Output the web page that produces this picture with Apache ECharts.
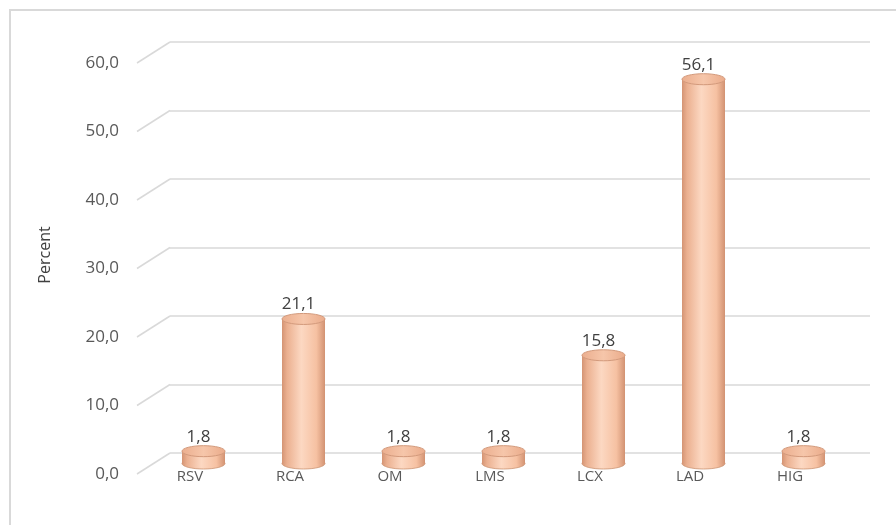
<!DOCTYPE html>
<html>
<head>
<meta charset="utf-8">
<script src="https://cdn.jsdelivr.net/npm/echarts@6/dist/echarts.min.js"></script>
<style>
  html, body { margin: 0; padding: 0; background: #fff; }
  #chart { width: 896px; height: 525px; }
</style>
</head>
<body>
<div id="chart"></div>
<script>
var categories = ['RSV', 'RCA', 'OM', 'LMS', 'LCX', 'LAD', 'HIG'];
var percents = [1.8, 21.1, 1.8, 1.8, 15.8, 56.1, 1.8];
var ticks = [0, 10, 20, 30, 40, 50, 60];

// depth of the 3D look: front plane is shifted left/down from the back wall
var depthX = 33, depthY = 21;

function fmt(v) {
    return v.toFixed(1).replace('.', ',');
}

var chart = echarts.init(document.getElementById('chart'));

var bodyGrad = new echarts.graphic.LinearGradient(0, 0, 1, 0, [
    {offset: 0, color: '#d49474'},
    {offset: 0.12, color: '#ebb090'},
    {offset: 0.45, color: '#fcd8c2'},
    {offset: 0.8, color: '#f6c1a2'},
    {offset: 1, color: '#d29272'}
]);
var topGrad = new echarts.graphic.LinearGradient(0, 0, 1, 0, [
    {offset: 0, color: '#ebae8e'},
    {offset: 0.5, color: '#f6c6aa'},
    {offset: 1, color: '#eaab8a'}
]);

var option = {
    backgroundColor: '#fff',
    animation: false,
    textStyle: {fontFamily: 'Open Sans'},
    grid: [
        // back wall
        {left: 170, right: 26, top: 42, bottom: 72},
        // front plane (labels)
        {left: 137, right: 59, top: 63, bottom: 51},
        // middle plane (cylinders)
        {left: 153.5, right: 42.5, top: 52.5, bottom: 61.5}
    ],
    xAxis: [
        {gridIndex: 0, type: 'category', data: categories, show: false},
        {gridIndex: 1, type: 'category', data: categories,
            axisLine: {show: false}, axisTick: {show: false},
            axisLabel: {color: '#595959', fontSize: 15, margin: -5, padding: [0, 0, 0, 6]}},
        {gridIndex: 2, type: 'category', data: categories, show: false}
    ],
    yAxis: [
        {gridIndex: 0, type: 'value', min: 0, max: 60, interval: 10,
            axisLine: {show: false}, axisTick: {show: false}, axisLabel: {show: false},
            splitLine: {lineStyle: {color: '#d9d9d9', width: 1.5}}},
        {gridIndex: 1, type: 'value', min: 0, max: 60, interval: 10,
            axisLine: {show: false}, axisTick: {show: false}, splitLine: {show: false},
            axisLabel: {color: '#595959', fontSize: 17, margin: 18, formatter: fmt}},
        {gridIndex: 2, type: 'value', min: 0, max: 60, interval: 10, show: false}
    ],
    graphic: [
        {type: 'rect', shape: {x: 10, y: 10, width: 900, height: 530},
            style: {fill: 'none', stroke: '#d9d9d9', lineWidth: 2}, silent: true},
        {type: 'text', x: 45, y: 255, rotation: Math.PI / 2,
            style: {text: 'Percent', fill: '#404040', font: '16px "Open Sans"',
                align: 'center', verticalAlign: 'middle'}}
    ],
    series: [
        {
            // slanted side-wall gridlines
            type: 'custom',
            xAxisIndex: 0, yAxisIndex: 0,
            silent: true,
            data: ticks.map(function (t) { return [0, t]; }),
            renderItem: function (params, api) {
                var y = api.coord([0, api.value(1)])[1];
                var x = params.coordSys.x;
                return {
                    type: 'line',
                    shape: {x1: x - depthX, y1: y + depthY, x2: x, y2: y},
                    style: {stroke: '#d9d9d9', lineWidth: 1.5}
                };
            }
        },
        {
            type: 'custom',
            xAxisIndex: 2, yAxisIndex: 2,
            data: percents.map(function (v, i) { return [i, v]; }),
            renderItem: function (params, api) {
                var i = api.value(0), v = api.value(1);
                var top = api.coord([i, v]);
                var base = api.coord([i, 0]);
                var rx = 21.5, ry = 5.5;
                var cx = top[0];
                return {
                    type: 'group',
                    children: [
                        {type: 'ellipse', shape: {cx: cx, cy: base[1], rx: rx, ry: ry},
                            style: {fill: bodyGrad, stroke: '#cc9474', lineWidth: 0.8}},
                        {type: 'rect', shape: {x: cx - rx, y: top[1], width: rx * 2, height: base[1] - top[1]},
                            style: {fill: bodyGrad}},
                        {type: 'ellipse', shape: {cx: cx, cy: top[1], rx: rx, ry: ry},
                            style: {fill: topGrad, stroke: '#d39a7c', lineWidth: 1}},
                        {type: 'text', x: cx - 5, y: top[1] - 6,
                            style: {text: fmt(v), fill: '#404040', font: '17px "Open Sans"',
                                align: 'center', verticalAlign: 'bottom'}}
                    ]
                };
            }
        }
    ]
};
chart.setOption(option);
</script>
</body>
</html>
